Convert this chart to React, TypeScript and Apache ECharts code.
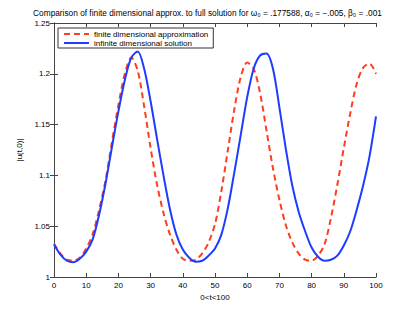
import React, { useEffect, useRef } from "react";
import * as echarts from "echarts";

const tValues: number[] = [
  0, 2, 4, 6, 8, 10, 12, 14, 16, 18, 20, 22, 24, 26, 28, 30, 32, 34, 36, 38, 40,
  42, 44, 46, 48, 50, 52, 54, 56, 58, 60, 62, 64, 66, 68, 70, 72, 74, 76, 78, 80,
  82, 84, 86, 88, 90, 92, 94, 96, 98, 100,
];

const finiteApprox: number[] = [
  1.033, 1.023, 1.017, 1.016, 1.019, 1.028, 1.042, 1.066, 1.095, 1.133, 1.169,
  1.200, 1.216, 1.203, 1.168, 1.127, 1.091, 1.063, 1.042, 1.027, 1.018,
  1.016, 1.017, 1.023, 1.034, 1.052, 1.085, 1.125, 1.165, 1.197, 1.211,
  1.205, 1.181, 1.144, 1.107, 1.076, 1.051, 1.034, 1.023, 1.017, 1.016,
  1.021, 1.032, 1.058, 1.091, 1.127, 1.161, 1.190, 1.206, 1.210, 1.200,
];

const infiniteSolution: number[] = [
  1.032, 1.022, 1.016, 1.0145, 1.018, 1.025, 1.037, 1.061, 1.092, 1.128, 1.163,
  1.194, 1.216, 1.222, 1.205, 1.173, 1.136, 1.100, 1.067, 1.042, 1.027,
  1.019, 1.015, 1.016, 1.021, 1.028, 1.042, 1.068, 1.103, 1.140, 1.177,
  1.205, 1.218, 1.220, 1.205, 1.167, 1.126, 1.090, 1.064, 1.045, 1.029,
  1.020, 1.016, 1.017, 1.021, 1.031, 1.045, 1.066, 1.090, 1.119, 1.158,
];

const seriesNames = ["finite dimensional approximation", "infinite dimensional solution"];
const titleText = "Comparison of finite dimensional approx. to full solution for ω₀ = .177588, α₀ = −.005, β₀ = .001";
const xName = "0<t<100";
const yName = "|u(t,0)|";

const FONT = "Liberation Sans, Arial, Helvetica, sans-serif";

export default function App() {
  const ref = useRef<HTMLDivElement>(null);
  useEffect(() => {
    if (!ref.current) return;
    const chart = echarts.init(ref.current, undefined, { renderer: "svg" });
    const axisColor = "#444";
    const common = {
      type: "value" as const,
      axisLine: { show: true, lineStyle: { color: axisColor, width: 1 } },
      axisTick: { show: true, inside: true, length: 4, lineStyle: { color: axisColor } },
      splitLine: { show: false },
    };
    chart.setOption({
      animation: false,
      backgroundColor: "#fff",
      textStyle: { fontFamily: FONT },
      title: {
        text: titleText,
        left: "center",
        top: 4,
        textStyle: { fontSize: 8.3, fontWeight: "normal", color: "#000", fontFamily: FONT },
      },
      legend: {
        left: 58,
        top: 28,
        orient: "vertical",
        itemWidth: 25,
        itemHeight: 10,
        itemGap: 1,
        padding: [2, 5, 1, 5],
        borderColor: "#333",
        borderWidth: 1,
        borderRadius: 0,
        backgroundColor: "#fff",
        itemStyle: { opacity: 0 },
        textStyle: { fontSize: 8, color: "#000", fontFamily: FONT },
        data: seriesNames,
      },
      grid: { left: 54, top: 23, width: 322, height: 254 },
      xAxis: [
        {
          ...common,
          min: 0,
          max: 100,
          interval: 10,
          position: "bottom",
          axisLabel: { fontSize: 8, color: "#000", margin: 4, fontFamily: FONT },
          name: xName,
          nameLocation: "middle",
          nameGap: 14,
          nameTextStyle: { fontSize: 8, color: "#000", fontFamily: FONT },
        },
        {
          ...common,
          min: 0,
          max: 100,
          interval: 10,
          position: "top",
          axisLabel: { show: false },
        },
      ],
      yAxis: [
        {
          ...common,
          min: 1,
          max: 1.25,
          interval: 0.05,
          position: "left",
          axisLabel: { fontSize: 8, color: "#000", margin: 4, fontFamily: FONT },
          name: yName,
          nameLocation: "middle",
          nameGap: 31,
          nameTextStyle: { fontSize: 8, color: "#000", fontFamily: FONT },
        },
        {
          ...common,
          min: 1,
          max: 1.25,
          interval: 0.05,
          position: "right",
          axisLabel: { show: false },
        },
      ],
      series: [
        {
          name: seriesNames[0],
          type: "line",
          xAxisIndex: 0,
          yAxisIndex: 0,
          data: tValues.map((t, i) => [t, finiteApprox[i]]),
          symbol: "none",
          showSymbol: false,
          smooth: 0.3,
          lineStyle: { color: "#ff3c1e", width: 2, type: [6, 4] },
          itemStyle: { color: "#ff3c1e" },
        },
        {
          name: seriesNames[1],
          type: "line",
          xAxisIndex: 0,
          yAxisIndex: 0,
          data: tValues.map((t, i) => [t, infiniteSolution[i]]),
          symbol: "none",
          showSymbol: false,
          smooth: 0.3,
          lineStyle: { color: "#1e3cff", width: 2, type: "solid" },
          itemStyle: { color: "#1e3cff" },
        },
      ],
    });
    return () => chart.dispose();
  }, []);
  return (
    <div
      ref={ref}
      style={{ position: "fixed", left: 0, top: 0, width: 415, height: 313 }}
    />
  );
}
